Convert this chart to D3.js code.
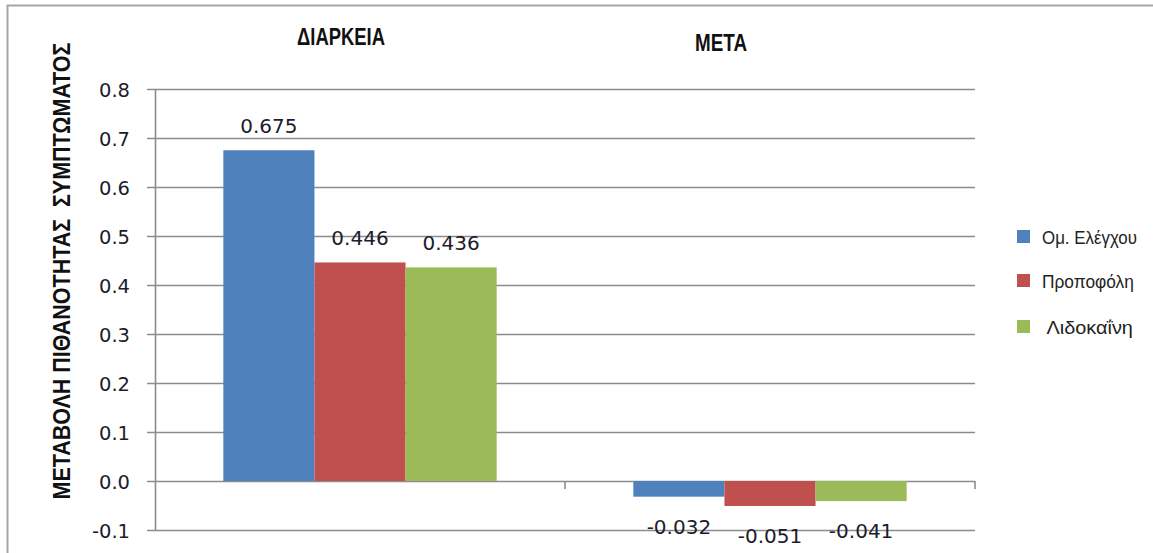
<!DOCTYPE html>
<html>
<head>
<meta charset="utf-8">
<script src="https://cdn.jsdelivr.net/npm/d3@7"></script>
<style>
  html, body { margin: 0; padding: 0; background: #fff; }
  svg { display: block; }
  text { white-space: pre; }
</style>
</head>
<body>
<svg id="chart" width="1153" height="553"></svg>
<script>
// Change in symptom probability, by phase and group
const categories = ["ΔΙΑΡΚΕΙΑ", "ΜΕΤΑ"];
const seriesNames = ["Ομ. Ελέγχου", "Προποφόλη", " Λιδοκαΐνη"];
const controlValues = [0.675, -0.032];
const propofolValues = [0.446, -0.051];
const lidocaineValues = [0.436, -0.041];
const yTickValues = [-0.1, 0.0, 0.1, 0.2, 0.3, 0.4, 0.5, 0.6, 0.7, 0.8];
const seriesColors = ["#4f81bd", "#c0504d", "#9bbb59"];
const yAxisTitle = "ΜΕΤΑΒΟΛΗ ΠΙΘΑΝΟΤΗΤΑΣ  ΣΥΜΠΤΩΜΑΤΟΣ";

const seriesValues = [controlValues, propofolValues, lidocaineValues];

// plain hyphen for negative numbers
const locale = d3.formatLocale({ decimal: ".", thousands: ",", grouping: [3], currency: ["", ""], minus: "-" });
const fmtTick = locale.format(".1f");
const fmtValue = locale.format(".3f");

const svg = d3.select("#chart");
const gridColor = "#8c8c8c";

// squeeze a text element horizontally to a given width (condensed look)
function condense(sel, width) {
  sel.each(function (d, i) {
    const w = typeof width === "function" ? width(d, i) : width;
    const natural = this.getComputedTextLength();
    const base = this.getAttribute("transform") || "";
    const x = +this.getAttribute("x") || 0;
    const yPos = +this.getAttribute("y") || 0;
    const s = w / natural;
    this.setAttribute("x", 0);
    this.setAttribute("y", 0);
    this.setAttribute("transform", `${base} translate(${x},${yPos}) scale(${s},1)`);
  });
}

// outer frame (left and top edges)
svg.append("path")
  .attr("d", "M7.5,553 V5.5 H1153")
  .attr("fill", "none")
  .attr("stroke", "#a6a6a6")
  .attr("stroke-width", 2);

const plot = { left: 155, right: 975 };

const y = d3.scaleLinear().domain([-0.1, 0.8]).range([530, 89]);
const x0 = d3.scaleBand().domain(categories).range([plot.left, plot.right]).paddingInner(0).paddingOuter(0);
const x1 = d3.scaleBand().domain(d3.range(seriesNames.length)).range([0, x0.bandwidth()]).paddingInner(0).paddingOuter(0.75);

// horizontal gridlines with outside ticks
const yAxis = d3.axisLeft(y)
  .tickValues(yTickValues)
  .tickFormat(fmtTick)
  .tickSize(-(plot.right - plot.left))
  .tickSizeOuter(0)
  .tickPadding(0);

const gy = svg.append("g")
  .attr("transform", `translate(${plot.left},0)`)
  .call(yAxis);
gy.select(".domain").attr("stroke", gridColor).attr("stroke-width", 1.6);
gy.selectAll(".tick line")
  .attr("x1", -8)
  .attr("stroke", gridColor)
  .attr("stroke-width", 1.6);
gy.selectAll(".tick text")
  .attr("x", -25)
  .attr("dy", "0.36em")
  .attr("fill", "#1c1c2c")
  .attr("font-family", "DejaVu Sans")
  .attr("font-size", 19.5);

// category axis along zero with boundary ticks
const boundaries = categories.map(c => x0(c)).concat([plot.right]);
svg.append("g").selectAll("line")
  .data(boundaries.slice(1))
  .join("line")
  .attr("x1", d => d).attr("x2", d => d)
  .attr("y1", y(0)).attr("y2", y(0) + 8)
  .attr("stroke", gridColor)
  .attr("stroke-width", 1.6);

// bars
const bars = [];
categories.forEach((c, ci) => {
  seriesValues.forEach((vals, si) => {
    bars.push({ cat: c, series: si, value: vals[ci] });
  });
});

svg.append("g").selectAll("rect")
  .data(bars)
  .join("rect")
  .attr("x", d => x0(d.cat) + x1(d.series))
  .attr("width", x1.bandwidth())
  .attr("y", d => y(Math.max(0, d.value)))
  .attr("height", d => Math.abs(y(d.value) - y(0)))
  .attr("fill", d => seriesColors[d.series]);

// value labels
svg.append("g").selectAll("text")
  .data(bars)
  .join("text")
  .attr("x", d => x0(d.cat) + x1(d.series) + x1.bandwidth() / 2)
  .attr("y", d => d.value >= 0 ? y(d.value) - 17 : y(d.value) + 37)
  .attr("text-anchor", "middle")
  .attr("font-family", "DejaVu Sans")
  .attr("font-size", 20)
  .attr("fill", "#1c1c2c")
  .text(d => fmtValue(d.value));

// phase headings above the groups
const headingShift = [-19, -49];
const headingBaseline = [45, 51];
const headingLength = [88, 52];
svg.append("g").selectAll("text")
  .data(categories)
  .join("text")
  .attr("x", (d, i) => x0(d) + x0.bandwidth() / 2 + headingShift[i])
  .attr("y", (d, i) => headingBaseline[i])
  .attr("text-anchor", "middle")
  .attr("font-family", "Liberation Sans")
  .attr("font-weight", "bold")
  .attr("font-size", 23.5)
  .attr("fill", "#111")
  .text(d => d)
  .call(condense, (d, i) => headingLength[i]);

// y axis title
svg.append("text")
  .attr("transform", "translate(70,271) rotate(-90)")
  .attr("text-anchor", "middle")
  .attr("font-family", "Liberation Sans")
  .attr("font-weight", "bold")
  .attr("font-size", 24)
  .attr("fill", "#111")
  .text(yAxisTitle)
  .call(condense, 457);

// legend
const legendTop = [230, 274, 320];
const legendLength = [95, 92, 91];
const legend = svg.append("g").selectAll("g")
  .data(seriesNames)
  .join("g")
  .attr("transform", (d, i) => `translate(1017,${legendTop[i]})`);
legend.append("rect")
  .attr("width", 13).attr("height", 13)
  .attr("fill", (d, i) => seriesColors[i]);
legend.append("text")
  .attr("x", 25)
  .attr("y", 14)
  .attr("font-family", "Liberation Sans")
  .attr("font-size", 18.5)
  .attr("fill", "#222")
  .text(d => d)
  .call(condense, (d, i) => legendLength[i]);
</script>
</body>
</html>
